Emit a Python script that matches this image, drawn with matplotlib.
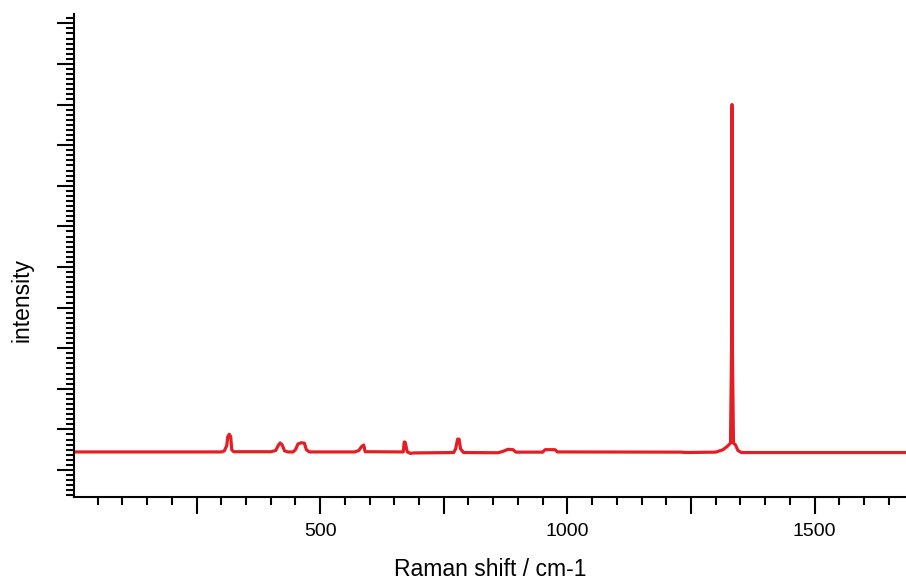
import matplotlib
matplotlib.use("Agg")
import matplotlib.pyplot as plt
from matplotlib.ticker import MultipleLocator, FuncFormatter

plt.rcParams['font.family'] = ['Liberation Sans', 'DejaVu Sans']

raman_shift = [0, 300, 306, 311, 313, 316, 319, 321, 325,
               400, 410, 415, 419, 423, 428, 435,
               445, 450, 455, 462, 468, 472, 478,
               570, 578, 584, 588, 591,
               668, 670, 672, 676, 682, 690,
               770, 774, 778, 781, 784, 790,
               860, 870, 880, 890, 896,
               950, 955, 975, 980,
               1230, 1240, 1300, 1315, 1325, 1330, 1332, 1333, 1334, 1336, 1340, 1345, 1352,
               1360, 1690]
intensity = [445, 445, 470, 600, 820, 880, 820, 500, 450,
             450, 480, 600, 665, 620, 470, 445,
             445, 500, 640, 672, 660, 500, 445,
             445, 480, 580, 615, 450,
             445, 690, 680, 450, 410, 420,
             430, 520, 760, 760, 520, 430,
             425, 460, 510, 500, 440,
             440, 500, 500, 445,
             440, 430, 440, 500, 600, 660, 2800, 9000, 2800, 660, 620, 480, 430,
             430, 430]

W, H = 906, 582
fig = plt.figure(figsize=(W/100, H/100), dpi=100)
ax = fig.add_axes([74/W, 85/H, 1 - 74/W, 483/H])
ax.plot(raman_shift, intensity, color='#e31e24', lw=2.3, solid_joinstyle='round')

ax.set_xlim(2, 1685)
ax.set_ylim(-665, 11230)

for s in ['top', 'right']:
    ax.spines[s].set_visible(False)
for s in ['left', 'bottom']:
    ax.spines[s].set_linewidth(1.5)

ax.xaxis.set_major_locator(MultipleLocator(250))
ax.xaxis.set_minor_locator(MultipleLocator(50))
ax.xaxis.set_major_formatter(FuncFormatter(lambda v, p: f"{int(v)}" if v % 500 == 0 and v > 0 else ""))
ax.yaxis.set_major_locator(MultipleLocator(1000))
ax.yaxis.set_minor_locator(MultipleLocator(1000/8))
ax.yaxis.set_major_formatter(FuncFormatter(lambda v, p: ""))

ax.tick_params(axis='x', which='major', direction='out', length=12, width=1.5, labelsize=14, pad=7)
ax.tick_params(axis='x', which='minor', direction='out', length=6, width=1.5)
ax.tick_params(axis='y', which='major', direction='out', length=12, width=1.5)
ax.tick_params(axis='y', which='minor', direction='out', length=6, width=1.5)

ax.set_xlabel('Raman shift / cm-1', fontsize=16.5)
ax.xaxis.set_label_coords((490 - 74) / (W - 74), -(570 - 497) / 483)
ax.set_ylabel('intensity', fontsize=16.5)
ax.yaxis.set_label_coords(-(74 - 22) / (W - 74), (497 - 300) / 483)
ax.xaxis.label.set_va('center')
ax.yaxis.label.set_va('center')

fig.savefig('out.png', dpi=100)
